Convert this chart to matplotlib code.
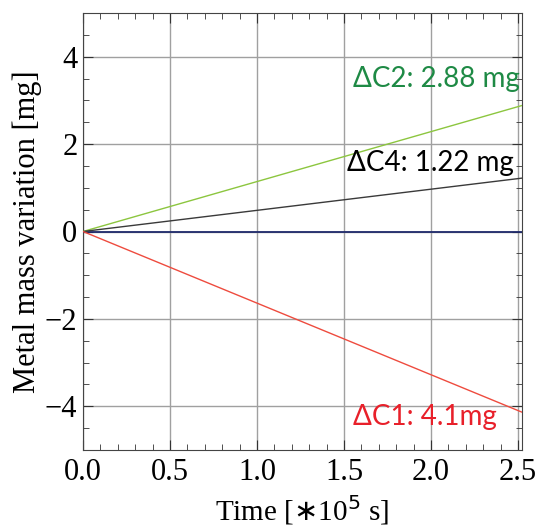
import matplotlib
matplotlib.use("Agg")
import matplotlib.pyplot as plt
from matplotlib.ticker import MultipleLocator

# Linear mass variation over time for each metal sample
t_end = 2.52
labels = ["ΔC2: 2.88 mg", "ΔC4: 1.22 mg", "ΔC1: 4.1mg"]
end_values = [2.88, 1.22, -4.13]
line_colors = ["#8cc63f", "#3a3a3a", "#ee4b3e"]
text_colors = ["#1e8a45", "#000000", "#e8202a"]
label_pos = [(1.55, 3.5), (1.52, 1.56), (1.55, -4.25)]
reference_value = 0.0

fig = plt.figure(figsize=(5.36, 5.26), dpi=100)
ax = fig.add_axes([83 / 536, 1 - 450 / 526, (521.5 - 83) / 536, (450 - 13) / 526])

serif = ["Liberation Serif", "DejaVu Serif"]

ax.plot([0, t_end], [reference_value, reference_value], color="#1f2a6b", lw=1.3, zorder=3)
for val, c in zip(end_values, line_colors):
    ax.plot([0, t_end], [0, val], color=c, lw=1.0, zorder=3)

for lab, (x, y), c in zip(labels, label_pos, text_colors):
    ax.text(x, y, lab, color=c, fontsize=20, family=["Lato", "DejaVu Sans"],
            va="center", ha="left", zorder=4)

ax.set_xlim(0, t_end)
ax.set_ylim(-5, 5)
ax.xaxis.set_major_locator(MultipleLocator(0.5))
ax.xaxis.set_minor_locator(MultipleLocator(0.1))
ax.yaxis.set_major_locator(MultipleLocator(2))
ax.yaxis.set_minor_locator(MultipleLocator(0.5))
ax.grid(True, which="major", color="#a0a0a0", lw=1.0)
ax.set_axisbelow(True)

ax.tick_params(which="both", direction="in", top=True, right=True,
               labelsize=22, color="#333333")
ax.tick_params(axis="x", pad=6)
ax.tick_params(axis="y", pad=4)
ax.tick_params(which="major", length=7, width=0.8)
ax.tick_params(which="minor", length=4, width=0.6)
ax.set_xticks([0, 0.5, 1.0, 1.5, 2.0, 2.5])
ax.set_xticklabels(["0.0", "0.5", "1.0", "1.5", "2.0", "2.5"])
ax.set_yticks([-4, -2, 0, 2, 4])
ax.set_yticklabels(["\u22124", "\u22122", "0", "2", "4"])
for lbl in ax.get_xticklabels() + ax.get_yticklabels():
    lbl.set_family(serif)
for s in ax.spines.values():
    s.set_color("#444444")
    s.set_linewidth(0.8)

ax.set_xlabel("Time [$\\ast$10$^5$ s]", fontsize=21, family=serif, labelpad=4)
ax.set_ylabel("Metal mass variation [mg]", fontsize=22, family=serif, labelpad=2)

fig.savefig("out.png", dpi=100)
